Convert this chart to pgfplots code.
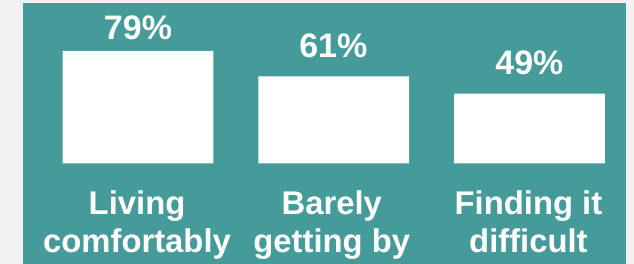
\documentclass[border=0pt]{standalone}
\usepackage{pgfplots}
\pgfplotsset{compat=1.18}
\usepackage{fontspec}
\setmainfont{Liberation Sans}
\definecolor{teal}{HTML}{459B9A}
\definecolor{bggray}{HTML}{F2F2F2}
\begin{document}
\begin{tikzpicture}
\begin{axis}[
  scale only axis,
  width=634bp, height=264bp,
  xmin=-0.7052, xmax=2.5345,
  ymin=-70.77, ymax=114.76,
  axis lines=none,
  xtick=\empty, ytick=\empty,
  clip=false,
]
\fill[bggray] (rel axis cs:0,0) rectangle (rel axis cs:1,1);
\fill[teal] (rel axis cs:0.0363,0) rectangle (rel axis cs:0.9874,0.9886);
\addplot[ybar, bar width=150.7bp, fill=white, draw=none] coordinates {(0,79) (1,61) (2,49)};
\tikzset{pct/.style={anchor=base, text=white, font=\fontsize{34bp}{38bp}\selectfont\bfseries},
         cat/.style={anchor=base, text=white, font=\fontsize{32.8bp}{37bp}\selectfont\bfseries}}
\node[pct] at (axis cs:0,87.14) {79\%};
\node[pct] at (axis cs:0.998,74.49) {61\%};
\node[pct] at (axis cs:2.0,62.06) {49\%};
\node[cat] at (axis cs:-0.005,-36.0) {Living};
\node[cat] at (axis cs:-0.005,-62.4) {comfortably};
\node[cat] at (axis cs:0.99,-36.0) {Barely};
\node[cat] at (axis cs:0.99,-62.4) {getting by};
\node[cat] at (axis cs:1.995,-36.0) {Finding it};
\node[cat] at (axis cs:1.995,-62.4) {difficult};
\end{axis}
\end{tikzpicture}
\end{document}
